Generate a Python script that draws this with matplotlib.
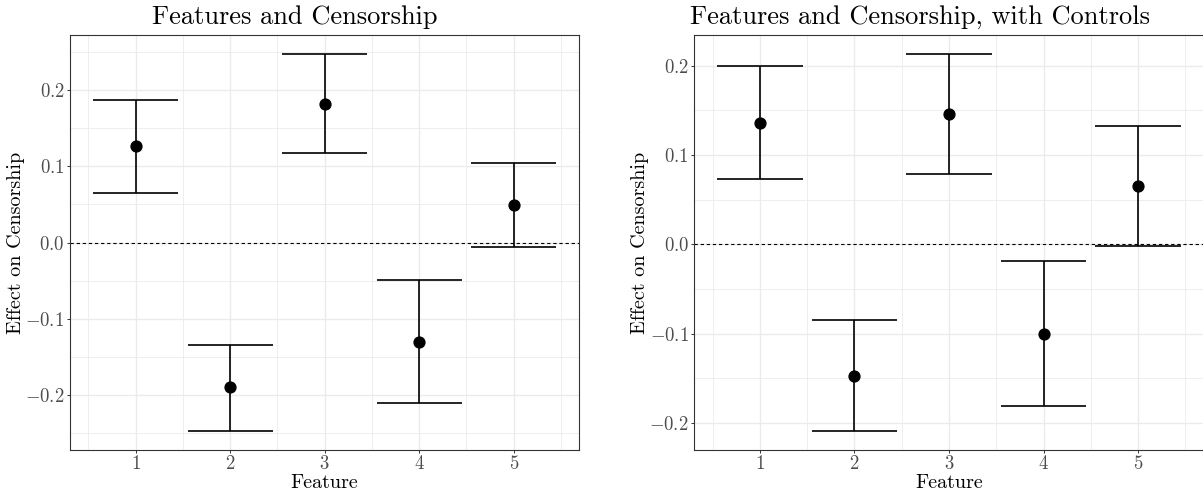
import numpy as np
import matplotlib
matplotlib.use("Agg")
import matplotlib.pyplot as plt
from matplotlib.ticker import FixedLocator

# ---------------------
# Data
# ---------------------
features = [1, 2, 3, 4, 5]

est_plain = [0.126, -0.190, 0.182, -0.130, 0.0495]
lo_plain = [0.065, -0.247, 0.117, -0.211, -0.006]
hi_plain = [0.187, -0.134, 0.247, -0.049, 0.1045]

est_ctrl = [0.136, -0.147, 0.146, -0.100, 0.065]
lo_ctrl = [0.073, -0.209, 0.079, -0.181, -0.002]
hi_ctrl = [0.200, -0.085, 0.213, -0.019, 0.132]

titles = ["Features and Censorship", "Features and Censorship, with Controls"]
y_major = [-0.2, -0.1, 0.0, 0.1, 0.2]
y_minor = [-0.25, -0.15, -0.05, 0.05, 0.15, 0.25]
x_minor = [0.5, 1.5, 2.5, 3.5, 4.5, 5.5]

# ---------------------
# Style (ggplot theme_bw look, LaTeX-like serif)
# ---------------------
plt.rcParams["font.family"] = "cmr10"
plt.rcParams["mathtext.fontset"] = "cm"
plt.rcParams["axes.formatter.use_mathtext"] = True

W, H = 1203, 497
fig = plt.figure(figsize=(W / 100, H / 100), dpi=100)

grid_col = "#EBEBEB"
frame_col = "#333333"
tick_col = "#4D4D4D"
cap_half = 0.45


def panel(left_px, est, lo, hi, title, title_x_px):
    ax = fig.add_axes([left_px / W, (H - 449.7) / H, 509.4 / W, 414.4 / H])

    # errorbars: stem + caps, widths in data units like geom_errorbar(width=0.9)
    xs = np.array(features)
    ax.vlines(xs, lo, hi, color="black", lw=1.2, zorder=3)
    ax.hlines(lo, xs - cap_half, xs + cap_half, color="black", lw=1.2, zorder=3)
    ax.hlines(hi, xs - cap_half, xs + cap_half, color="black", lw=1.2, zorder=3)
    ax.plot(xs, est, "o", color="black", ms=7.8, zorder=4)
    ax.axhline(0, color="black", lw=0.8, ls=(0, (3, 2.5)), zorder=2)

    # limits with ggplot's 5% expansion
    x0, x1 = min(features) - cap_half, max(features) + cap_half
    dx = (x1 - x0) * 0.05
    ax.set_xlim(x0 - dx, x1 + dx)
    y0, y1 = min(lo), max(hi)
    dy = (y1 - y0) * 0.05
    ax.set_ylim(y0 - dy, y1 + dy)

    ax.xaxis.set_major_locator(FixedLocator(features))
    ax.xaxis.set_minor_locator(FixedLocator(x_minor))
    ax.yaxis.set_major_locator(FixedLocator(y_major))
    ax.yaxis.set_minor_locator(FixedLocator(y_minor))

    ax.grid(which="major", color=grid_col, lw=1.0, zorder=0)
    ax.grid(which="minor", color=grid_col, lw=0.6, zorder=0)
    ax.set_axisbelow(True)

    for s in ax.spines.values():
        s.set_color(frame_col)
        s.set_linewidth(0.8)

    ax.tick_params(which="major", length=2.4, width=0.7, color=frame_col,
                   labelcolor=tick_col, labelsize=13.5, pad=1.5)
    ax.tick_params(which="minor", length=0)

    ax.set_xlabel("Feature", fontsize=14.5, labelpad=0.5)
    ax.set_ylabel("Effect on Censorship", fontsize=14.5, labelpad=0)

    fig.text(title_x_px / W, (H - 24) / H, title, fontsize=19,
             ha="center", va="baseline")
    return ax


panel(70, est_plain, lo_plain, hi_plain, titles[0], 294.7)
panel(694.3, est_ctrl, lo_ctrl, hi_ctrl, titles[1], 920)

fig.savefig("out.png", dpi=100)
